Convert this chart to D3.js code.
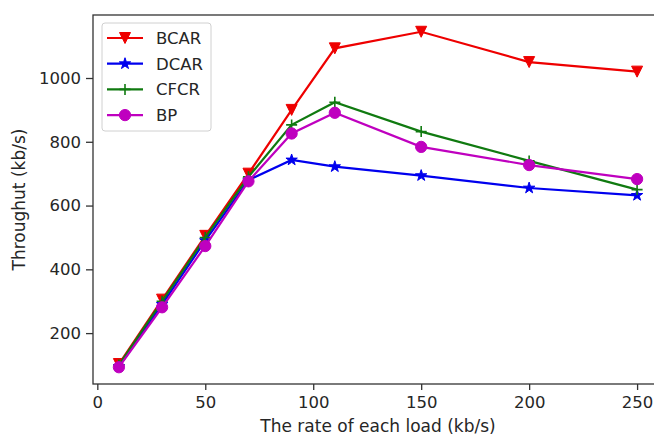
<!DOCTYPE html>
<html>
<head>
<meta charset="utf-8">
<script src="https://cdn.jsdelivr.net/npm/d3@7"></script>
<style>
  body { margin: 0; background: #fff; }
  text { font-family: "DejaVu Sans", sans-serif; fill: #262626; }
</style>
</head>
<body>
<div id="container"></div>
<script>
/* DATA */
const loads = [10, 30, 50, 70, 90, 110, 150, 200, 250];
const bcar = [103, 305, 505, 700, 900, 1093, 1145, 1050, 1020];
const dcar = [95, 290, 490, 680, 743, 722, 694, 655, 632];
const cfcr = [100, 300, 500, 690, 853, 924, 832, 740, 650];
const bp = [93, 281, 473, 676, 826, 891, 784, 727, 683];
const xTicks = [0, 50, 100, 150, 200, 250];
const yTicks = [200, 400, 600, 800, 1000];

const series = [
  { name: "BCAR", values: bcar, color: "#ee0000", marker: "tri" },
  { name: "DCAR", values: dcar, color: "#0000ee", marker: "star" },
  { name: "CFCR", values: cfcr, color: "#107a10", marker: "plus" },
  { name: "BP", values: bp, color: "#bf00bf", marker: "circle" }
];

/* CONSTANTS */
const W = 654, H = 436;
const margin = { left: 93, right: 663, top: 15, bottom: 384 };

const svg = d3.select("#container")
  .append("svg")
  .attr("width", W)
  .attr("height", H);

/* SCALES */
const xScale = d3.scaleLinear().domain([-2, 262]).range([margin.left, margin.right]);

const allVals = series.flatMap(s => s.values);
const yMin = d3.min(allVals), yMax = d3.max(allVals);
const pad = (yMax - yMin) * 0.05;
const yScale = d3.scaleLinear().domain([yMin - pad, yMax + pad]).range([margin.bottom, margin.top]);

// markers
function markerPath(type) {
  if (type === "tri") return "M0,5.5L-5.5,-5.5L5.5,-5.5Z";
  if (type === "star") return d3.symbol(d3.symbolStar, 40)();
  if (type === "plus") return "M-5.5,0H5.5M0,-5.5V5.5";
  return d3.symbol(d3.symbolCircle, 100)();
}

function drawMarker(g, s, x, y) {
  const p = g.append("path")
    .attr("d", markerPath(s.marker))
    .attr("transform", `translate(${x},${y})`);
  if (s.marker === "plus") {
    p.attr("fill", "none").attr("stroke", s.color).attr("stroke-width", 1.6);
  } else {
    p.attr("fill", s.color).attr("stroke", s.color).attr("stroke-width", 1);
  }
}

/* LINES */
const line = d3.line()
  .x((d, i) => xScale(loads[i]))
  .y(d => yScale(d));

const plot = svg.append("g");
series.forEach(s => {
  plot.append("path")
    .datum(s.values)
    .attr("d", line)
    .attr("fill", "none")
    .attr("stroke", s.color)
    .attr("stroke-width", 2.2);
  s.values.forEach((v, i) => drawMarker(plot, s, xScale(loads[i]), yScale(v)));
});

/* AXES */
const xAxis = svg.append("g")
  .attr("transform", `translate(0,${margin.bottom})`)
  .call(d3.axisBottom(xScale).tickValues(xTicks).tickSize(6).tickPadding(6));

const yAxis = svg.append("g")
  .attr("transform", `translate(${margin.left},0)`)
  .call(d3.axisLeft(yScale).tickValues(yTicks).tickFormat(d3.format("d")).tickSize(7).tickPadding(5));

[xAxis, yAxis].forEach(a => {
  a.select(".domain").remove();
  a.selectAll(".tick line").attr("stroke", "#333").attr("stroke-width", 1.3);
  a.selectAll(".tick text").style("font-size", "16.5px").attr("fill", "#262626");
});

// frame
svg.append("rect")
  .attr("x", margin.left)
  .attr("y", margin.top)
  .attr("width", margin.right - margin.left)
  .attr("height", margin.bottom - margin.top)
  .attr("fill", "none")
  .attr("stroke", "#333")
  .attr("stroke-width", 1.3);

// axis labels
svg.append("text")
  .attr("x", (margin.left + margin.right) / 2)
  .attr("y", 432)
  .attr("text-anchor", "middle")
  .style("font-size", "17px")
  .text("The rate of each load (kb/s)");

svg.append("text")
  .attr("transform", `translate(25,${(margin.top + margin.bottom) / 2}) rotate(-90)`)
  .attr("text-anchor", "middle")
  .style("font-size", "17px")
  .text("Throughut (kb/s)");

/* LEGEND */
const legend = svg.append("g").attr("transform", "translate(102,23)");
legend.append("rect")
  .attr("width", 109)
  .attr("height", 108)
  .attr("rx", 3)
  .attr("fill", "#fff")
  .attr("fill-opacity", 0.8)
  .attr("stroke", "#d0d0d0");

series.forEach((s, i) => {
  const y = 15 + i * 25.7;
  legend.append("line")
    .attr("x1", 5).attr("x2", 41)
    .attr("y1", y).attr("y2", y)
    .attr("stroke", s.color)
    .attr("stroke-width", 2.2);
  drawMarker(legend, s, 23, y);
  legend.append("text")
    .attr("x", 54)
    .attr("y", y)
    .attr("dy", "0.36em")
    .style("font-size", "16.5px")
    .text(s.name);
});
</script>
</body>
</html>
